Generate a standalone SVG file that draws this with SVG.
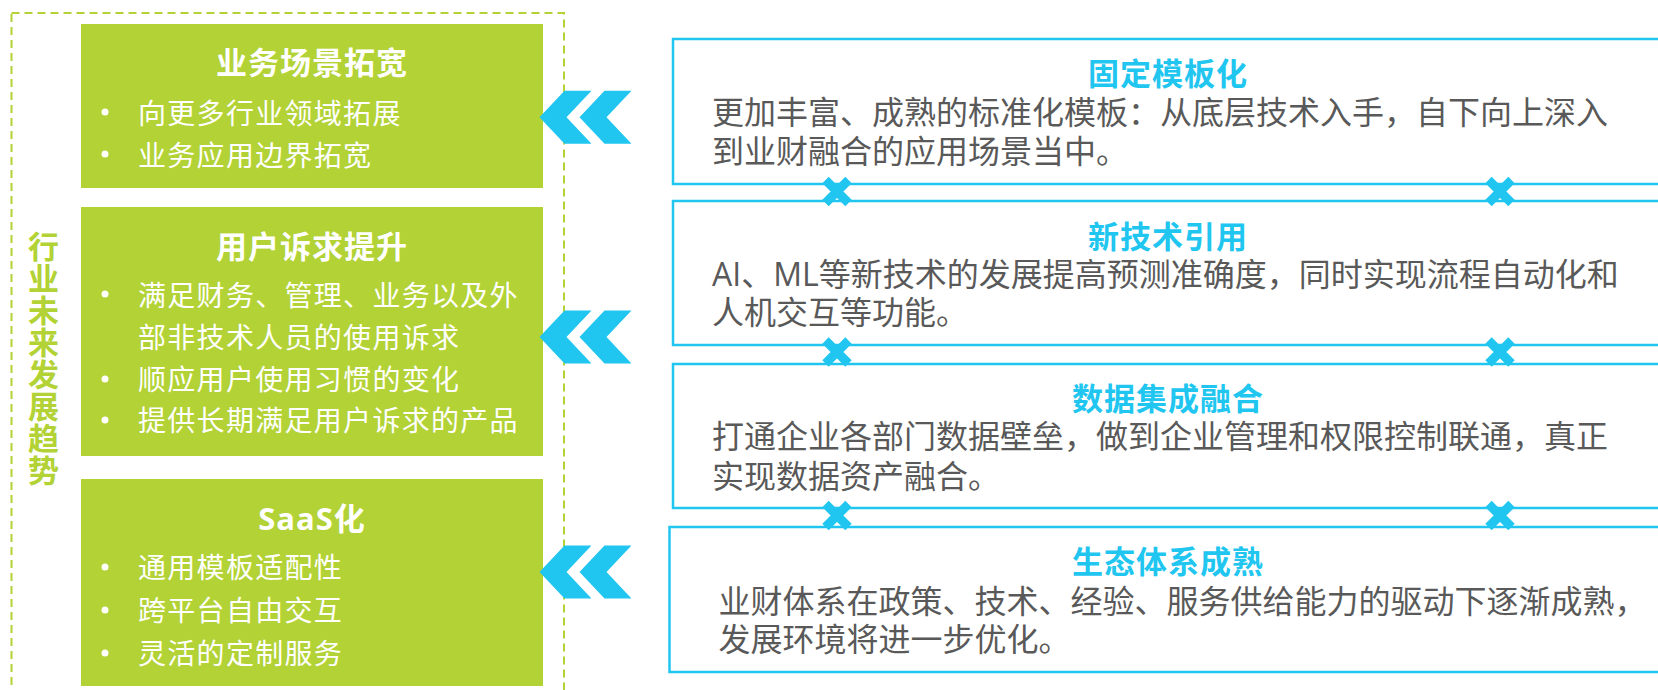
<svg xmlns="http://www.w3.org/2000/svg" width="1658" height="690" viewBox="0 0 1658 690">
<defs>
<style>
.frame{fill:none;stroke:#B2D235;stroke-width:2;stroke-dasharray:8 5}
.gbox{fill:#B2D235}
.cbox{fill:#FFFFFF;stroke:#21C6F0;stroke-width:2.5}
.gt{font-family:'Open Sans','Noto Sans CJK SC',sans-serif;font-size:31px;font-weight:bold;fill:#FFFFFF;text-anchor:middle;letter-spacing:1px}
.gb{font-family:'Open Sans','Noto Sans CJK SC',sans-serif;font-size:28px;fill:#FFFFFF;letter-spacing:1.3px}
.dot{fill:#FFFFFF}
.ct{font-family:'Open Sans','Noto Sans CJK SC',sans-serif;font-size:31px;font-weight:bold;fill:#21C6F0;text-anchor:middle;letter-spacing:1px}
.cb{font-family:'Open Sans','Noto Sans CJK SC',sans-serif;font-size:32px;fill:#595959}
.vt{font-family:'Open Sans','Noto Sans CJK SC',sans-serif;font-size:31px;font-weight:bold;fill:#B2D235;writing-mode:vertical-rl;letter-spacing:1px}
.chev{fill:#21C6F0}
.xm{stroke:#21C6F0;stroke-width:9;stroke-linecap:butt;fill:none}
</style>
<path id="chev" class="chev" d="M0,0 L25,-26.5 L52,-26.5 L27,0 L52,26.5 L25,26.5 Z"/>
<path id="xmark" class="xm" d="M-11.5,-11.5 L11.5,11.5 M11.5,-11.5 L-11.5,11.5"/>
</defs>
<rect width="1658" height="690" fill="#FFFFFF"/>

<g id="trend-frame">
<rect class="frame" x="11.5" y="13" width="552.5" height="700"/>
<text class="vt" x="42" y="231">行业未来发展趋势</text>
</g>

<g id="node-business">
<rect class="gbox" x="81" y="24" width="462" height="164"/>
<text class="gt" x="312" y="74">业务场景拓宽</text>
<circle class="dot" cx="105" cy="112" r="3.5"/>
<text class="gb" x="138" y="123.5">向更多行业领域拓展</text>
<circle class="dot" cx="105" cy="154" r="3.5"/>
<text class="gb" x="138" y="165.5">业务应用边界拓宽</text>
</g>

<g id="node-user">
<rect class="gbox" x="81" y="207" width="462" height="249"/>
<text class="gt" x="312" y="258">用户诉求提升</text>
<circle class="dot" cx="105" cy="294" r="3.5"/>
<text class="gb" x="138" y="305.5">满足财务、管理、业务以及外</text>
<text class="gb" x="138" y="347.5">部非技术人员的使用诉求</text>
<circle class="dot" cx="105" cy="379" r="3.5"/>
<text class="gb" x="138" y="390">顺应用户使用习惯的变化</text>
<circle class="dot" cx="105" cy="420" r="3.5"/>
<text class="gb" x="138" y="431">提供长期满足用户诉求的产品</text>
</g>

<g id="node-saas">
<rect class="gbox" x="81" y="479" width="462" height="207"/>
<text class="gt" x="312" y="530">SaaS化</text>
<circle class="dot" cx="105" cy="567" r="3.5"/>
<text class="gb" x="138" y="578">通用模板适配性</text>
<circle class="dot" cx="105" cy="610" r="3.5"/>
<text class="gb" x="138" y="620.5">跨平台自由交互</text>
<circle class="dot" cx="105" cy="653" r="3.5"/>
<text class="gb" x="138" y="663.5">灵活的定制服务</text>
</g>

<g id="node-template">
<rect class="cbox" x="673" y="39" width="1000" height="145"/>
<text class="ct" x="1168" y="85">固定模板化</text>
<text class="cb" x="712" y="124">更加丰富、成熟的标准化模板：从底层技术入手，自下向上深入</text>
<text class="cb" x="712" y="162.5">到业财融合的应用场景当中。</text>
</g>

<g id="node-tech">
<rect class="cbox" x="673" y="201" width="1000" height="144"/>
<text class="ct" x="1168" y="248">新技术引用</text>
<text class="cb" x="712" y="286">AI、ML等新技术的发展提高预测准确度，同时实现流程自动化和</text>
<text class="cb" x="712" y="324">人机交互等功能。</text>
</g>

<g id="node-data">
<rect class="cbox" x="673" y="364" width="1000" height="144"/>
<text class="ct" x="1168" y="410">数据集成融合</text>
<text class="cb" x="712" y="448">打通企业各部门数据壁垒，做到企业管理和权限控制联通，真正</text>
<text class="cb" x="712" y="488">实现数据资产融合。</text>
</g>

<g id="node-eco">
<rect class="cbox" x="669.5" y="527" width="1000" height="145"/>
<text class="ct" x="1168" y="573">生态体系成熟</text>
<text class="cb" x="718.5" y="612.5">业财体系在政策、技术、经验、服务供给能力的驱动下逐渐成熟，</text>
<text class="cb" x="718.5" y="650.5">发展环境将进一步优化。</text>
</g>

<g id="connectors">
<use href="#chev" x="539.5" y="117.3"/>
<use href="#chev" x="579.5" y="117.3"/>
<use href="#chev" x="539.5" y="337"/>
<use href="#chev" x="579.5" y="337"/>
<use href="#chev" x="539.5" y="572"/>
<use href="#chev" x="579.5" y="572"/>
<use href="#xmark" x="837" y="191.5"/>
<use href="#xmark" x="1500" y="191.5"/>
<use href="#xmark" x="837" y="352"/>
<use href="#xmark" x="1500" y="352"/>
<use href="#xmark" x="837" y="515.5"/>
<use href="#xmark" x="1500" y="515.5"/>
</g>
</svg>
